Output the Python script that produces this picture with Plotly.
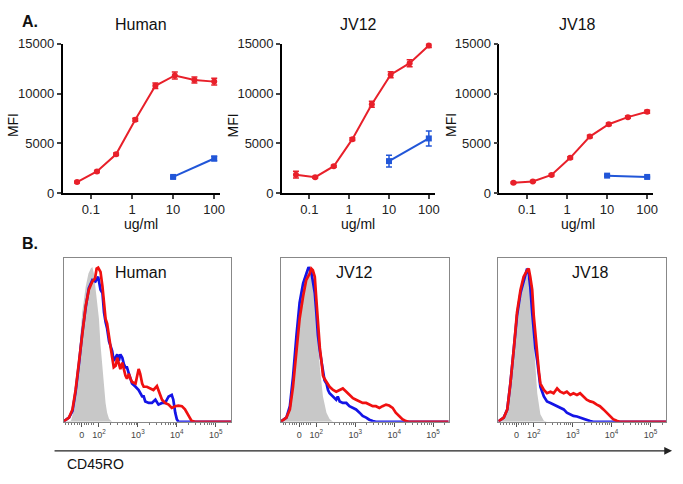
import math
import plotly.graph_objects as go

# ---------------- Panel A data ----------------
dose_red = [0.046, 0.14, 0.41, 1.2, 3.7, 11, 33, 100]
dose_blue = [10, 100]

human_red = [1100, 2170, 3900, 7370, 10780, 11820, 11360, 11200]
human_red_err = [80, 100, 120, 150, 280, 350, 300, 350]
human_blue = [1620, 3470]
human_blue_err = [100, 220]

jv12_red = [1850, 1590, 2700, 5420, 8930, 11900, 13050, 14840]
jv12_red_err = [350, 100, 100, 150, 300, 300, 350, 200]
jv12_blue = [3210, 5490]
jv12_blue_err = [600, 750]

jv18_red = [1040, 1170, 1820, 3540, 5680, 6920, 7630, 8180]
jv18_red_err = [80, 80, 100, 120, 120, 120, 120, 150]
jv18_blue = [1750, 1620]
jv18_blue_err = [80, 80]

panel_names = ["Human", "JV12", "JV18"]
y_ticks = [0, 5000, 10000, 15000]
x_ticks = [0.1, 1, 10, 100]
x_tick_text = ["0.1", "1", "10", "100"]

# ---------------- Panel B data (display units: decades; y: % of mode) ----------------
hist_tickvals = [1.56, 2, 3, 4, 5]
hist_ticktext = ["0", "10<sup>2</sup>", "10<sup>3</sup>", "10<sup>4</sup>", "10<sup>5</sup>"]

h_gray_x = [1.09, 1.28, 1.36, 1.40, 1.45, 1.49, 1.57, 1.66, 1.73, 1.79, 1.83, 1.87, 1.91, 1.96, 2.00, 2.04, 2.09, 2.13, 2.17, 2.21, 2.26, 2.34, 5.40]
h_gray_y = [0, 0.6, 8.0, 16.4, 29.0, 45.8, 71.0, 87.8, 96.2, 99.4, 100.4, 96.2, 87.8, 77.3, 66.8, 50.0, 35.3, 22.7, 12.2, 5.9, 1.7, 0, 0]

h_red_x = [1.09, 1.11, 1.23, 1.32, 1.40, 1.49, 1.57, 1.66, 1.74, 1.83, 1.90, 1.94, 1.98, 2.04, 2.09, 2.13, 2.17, 2.21, 2.26, 2.30, 2.34, 2.38, 2.43, 2.47, 2.51, 2.55, 2.60, 2.64, 2.68, 2.72, 2.77, 2.81, 2.85, 2.94, 2.98, 3.02, 3.06, 3.11, 3.15, 3.23, 3.32, 3.40, 3.49, 3.53, 3.62, 3.70, 3.79, 3.87, 3.96, 4.04, 4.13, 4.21, 4.30, 4.38, 4.47, 5.40]
h_red_y = [0.2, 0.6, 2.7, 8.0, 20.6, 39.5, 58.4, 75.2, 85.7, 91.0, 93.1, 99.4, 100, 97.3, 87.8, 77.3, 66.8, 63.7, 54.2, 47.9, 41.6, 35.3, 36.3, 41.6, 38.4, 34.2, 38.4, 33.2, 30.0, 27.9, 31.1, 27.9, 25.8, 24.8, 29.0, 34.2, 31.1, 24.8, 22.7, 22.7, 21.6, 20.6, 23.1, 20.6, 14.3, 12.2, 11.1, 9.0, 10.1, 10.5, 10.1, 8.0, 3.8, 0.6, 0, 0]

h_blue_x = [1.09, 1.11, 1.23, 1.32, 1.40, 1.49, 1.57, 1.66, 1.74, 1.83, 1.91, 1.98, 2.04, 2.09, 2.13, 2.17, 2.21, 2.26, 2.30, 2.34, 2.38, 2.43, 2.47, 2.51, 2.55, 2.60, 2.64, 2.68, 2.72, 2.77, 2.81, 2.85, 2.94, 3.02, 3.11, 3.15, 3.19, 3.28, 3.36, 3.45, 3.53, 3.62, 3.70, 3.79, 3.87, 3.91, 3.96, 4.00, 4.04, 5.40]
h_blue_y = [0.2, 0.6, 2.7, 6.9, 19.5, 38.4, 57.4, 74.2, 86.8, 92.0, 91.0, 94.1, 85.7, 83.6, 71.0, 64.7, 60.5, 52.1, 48.9, 45.8, 39.5, 41.6, 43.7, 39.5, 43.7, 41.6, 37.4, 35.3, 35.3, 31.1, 27.9, 24.8, 22.7, 20.6, 16.4, 16.4, 13.2, 12.2, 12.2, 14.3, 11.1, 12.2, 12.2, 16.4, 17.4, 14.3, 5.9, 1.7, 0, 0]

j12_gray_x = [1.09, 1.19, 1.32, 1.40, 1.49, 1.57, 1.66, 1.74, 1.80, 1.87, 1.91, 1.96, 2.00, 2.04, 2.09, 2.17, 2.26, 2.34, 2.43, 5.40]
j12_gray_y = [0, 0.6, 10.1, 29.0, 56.3, 79.4, 92.0, 98.3, 100, 97.3, 92.0, 81.5, 66.8, 50.0, 35.3, 16.4, 5.9, 1.7, 0, 0]

j12_blue_x = [1.09, 1.11, 1.23, 1.32, 1.40, 1.49, 1.57, 1.66, 1.74, 1.80, 1.87, 1.91, 1.96, 2.00, 2.04, 2.09, 2.17, 2.21, 2.26, 2.30, 2.34, 2.43, 2.51, 2.55, 2.60, 2.68, 2.77, 2.85, 2.94, 3.02, 3.11, 3.19, 3.28, 3.36, 3.45, 3.53, 5.40]
j12_blue_y = [0.2, 0.6, 2.7, 10.1, 29.0, 56.3, 77.3, 89.9, 96.2, 100.4, 97.3, 92.0, 83.6, 71.0, 56.3, 45.8, 33.2, 26.9, 24.8, 20.6, 18.5, 16.4, 14.3, 16.4, 13.2, 12.2, 12.2, 10.1, 9.0, 8.0, 5.9, 3.8, 2.7, 1.3, 0.4, 0, 0]

j12_red_x = [1.09, 1.11, 1.23, 1.32, 1.40, 1.49, 1.57, 1.66, 1.74, 1.83, 1.87, 1.91, 1.96, 2.00, 2.04, 2.09, 2.13, 2.17, 2.21, 2.26, 2.34, 2.43, 2.51, 2.60, 2.68, 2.77, 2.85, 2.94, 3.02, 3.11, 3.19, 3.28, 3.36, 3.45, 3.53, 3.62, 3.70, 3.79, 3.87, 3.96, 4.04, 4.13, 4.21, 4.30, 4.38, 5.40]
j12_red_y = [0.2, 0.4, 2.7, 8.0, 22.7, 45.8, 66.8, 81.5, 92.0, 96.2, 99.4, 98.3, 94.1, 79.4, 62.6, 47.9, 39.5, 30.0, 27.9, 25.8, 22.7, 20.6, 19.5, 20.6, 21.6, 19.5, 17.4, 15.3, 14.3, 13.2, 12.2, 12.2, 11.1, 10.1, 10.1, 9.0, 10.1, 11.1, 10.5, 9.0, 5.9, 3.8, 1.7, 0.4, 0, 0]

j18_gray_x = [1.09, 1.15, 1.32, 1.40, 1.49, 1.57, 1.66, 1.74, 1.80, 1.87, 1.91, 1.96, 2.00, 2.04, 2.09, 2.17, 2.26, 2.34, 5.40]
j18_gray_y = [0, 0.6, 8.0, 20.6, 41.6, 66.8, 83.6, 94.1, 96.2, 92.0, 83.6, 71.0, 52.1, 33.2, 18.5, 4.8, 0.6, 0, 0]

j18_blue_x = [1.09, 1.11, 1.23, 1.32, 1.40, 1.49, 1.57, 1.66, 1.74, 1.83, 1.87, 1.91, 1.96, 2.00, 2.04, 2.09, 2.13, 2.17, 2.26, 2.34, 2.43, 2.51, 2.60, 2.68, 2.77, 2.85, 2.94, 3.02, 3.11, 3.19, 3.28, 3.36, 3.45, 3.53, 5.40]
j18_blue_y = [0.2, 0.6, 2.7, 8.0, 24.8, 47.9, 68.9, 83.6, 92.0, 99.4, 96.2, 87.8, 71.0, 58.4, 47.9, 39.5, 29.0, 22.7, 16.4, 13.2, 12.2, 11.1, 10.1, 9.0, 8.0, 5.9, 4.8, 3.8, 3.4, 2.7, 1.7, 0.8, 0.4, 0, 0]

j18_red_x = [1.09, 1.11, 1.23, 1.32, 1.40, 1.49, 1.57, 1.66, 1.74, 1.83, 1.87, 1.91, 1.96, 2.00, 2.04, 2.09, 2.13, 2.17, 2.26, 2.34, 2.43, 2.51, 2.60, 2.68, 2.77, 2.85, 2.94, 3.02, 3.11, 3.19, 3.28, 3.36, 3.45, 3.53, 3.62, 3.70, 3.79, 3.87, 3.96, 4.04, 4.13, 4.21, 5.40]
j18_red_y = [0.2, 0.6, 2.7, 8.0, 24.8, 47.9, 71.0, 85.7, 94.1, 98.3, 99.4, 94.1, 85.7, 68.9, 56.3, 43.7, 33.2, 24.8, 20.6, 18.5, 19.5, 18.5, 21.6, 19.5, 18.5, 19.5, 17.4, 18.5, 17.4, 18.5, 16.4, 14.3, 13.2, 12.6, 11.1, 10.1, 8.0, 5.9, 3.8, 1.7, 0.6, 0, 0]

# ---------------- styling ----------------
W, H = 683, 484
RED_A = "#e8202a"
BLUE_A = "#2156d8"
RED_H = "#f01010"
BLUE_H = "#1414e6"
GRAY_H = "#c8c8c8"
FONT = "Liberation Sans, Arial, sans-serif"


def px(x):
    return x / W


def py(y):
    return 1 - y / H


fig = go.Figure()

a_dom_x = [(63, 222), (284, 438), (503, 658)]
a_dom_y = (38, 192)
b_dom_x = [(64, 233), (283, 452), (502, 671)]
b_dom_y = (259, 428)

a_sets = [
    (human_red, human_red_err, human_blue, human_blue_err),
    (jv12_red, jv12_red_err, jv12_blue, jv12_blue_err),
    (jv18_red, jv18_red_err, jv18_blue, jv18_blue_err),
]

layout = dict(
    width=W, height=H, margin=dict(l=0, r=0, t=0, b=0),
    paper_bgcolor="white", plot_bgcolor="white", showlegend=False,
    font=dict(family=FONT, color="#222"),
)

for i, (ry, re, by, be) in enumerate(a_sets):
    n = i + 1
    xa = "x" if n == 1 else f"x{n}"
    ya = "y" if n == 1 else f"y{n}"
    fig.add_trace(go.Scatter(
        x=dose_red, y=ry, xaxis=xa, yaxis=ya, mode="lines+markers",
        line=dict(color=RED_A, width=2), marker=dict(color=RED_A, size=6, symbol="circle"),
        error_y=dict(type="data", array=re, color=RED_A, thickness=1.5, width=3),
        cliponaxis=False))
    fig.add_trace(go.Scatter(
        x=dose_blue, y=by, xaxis=xa, yaxis=ya, mode="lines+markers",
        line=dict(color=BLUE_A, width=2), marker=dict(color=BLUE_A, size=6, symbol="square"),
        error_y=dict(type="data", array=be, color=BLUE_A, thickness=1.5, width=3),
        cliponaxis=False))
    x0, x1 = a_dom_x[i]
    layout["xaxis" if n == 1 else f"xaxis{n}"] = dict(
        domain=[px(x0), px(x1)], anchor=ya, type="log", range=[-1.69, 2.15],
        tickvals=x_ticks, ticktext=x_tick_text, ticks="outside", ticklen=4, tickwidth=1.5,
        showline=True, linecolor="black", linewidth=1.5, showgrid=False, zeroline=False,
        tickfont=dict(size=13, color="#222"))
    layout["yaxis" if n == 1 else f"yaxis{n}"] = dict(
        domain=[py(a_dom_y[1]), py(a_dom_y[0])], anchor=xa, range=[0, 15000],
        tickvals=y_ticks, tickformat="d", ticks="outside", ticklen=4, tickwidth=1.5,
        showline=True, linecolor="black", linewidth=1.5, showgrid=False, zeroline=False,
        tickfont=dict(size=13, color="#222"))

b_sets = [
    (h_gray_x, h_gray_y, h_blue_x, h_blue_y, h_red_x, h_red_y),
    (j12_gray_x, j12_gray_y, j12_blue_x, j12_blue_y, j12_red_x, j12_red_y),
    (j18_gray_x, j18_gray_y, j18_blue_x, j18_blue_y, j18_red_x, j18_red_y),
]

minor_vals = [1.15, 1.22, 1.30, 1.38, 1.45, 1.50, 1.62, 1.68, 1.74, 1.80, 1.86]
for dec in (2, 3, 4, 5):
    for k in range(2, 10):
        v = dec + math.log10(k)
        if v < 5.4:
            minor_vals.append(round(v, 3))

for i, (gx, gy, bx, byy, rx, ryy) in enumerate(b_sets):
    n = i + 4
    xa, ya = f"x{n}", f"y{n}"
    fig.add_trace(go.Scatter(x=gx, y=gy, xaxis=xa, yaxis=ya, mode="lines",
                             fill="tozeroy", fillcolor=GRAY_H, line=dict(width=0, color=GRAY_H)))
    fig.add_trace(go.Scatter(x=bx, y=byy, xaxis=xa, yaxis=ya, mode="lines",
                             line=dict(color=BLUE_H, width=2.7)))
    fig.add_trace(go.Scatter(x=rx, y=ryy, xaxis=xa, yaxis=ya, mode="lines",
                             line=dict(color=RED_H, width=2.7)))
    x0, x1 = b_dom_x[i]
    layout[f"xaxis{n}"] = dict(
        domain=[px(x0), px(x1)], anchor=ya, range=[1.09, 5.40],
        tickvals=hist_tickvals, ticktext=hist_ticktext, ticks="outside", ticklen=4,
        tickwidth=1, tickcolor="#555",
        minor=dict(tickmode="array", tickvals=minor_vals, ticks="outside", ticklen=2,
                   tickwidth=1, tickcolor="#777", showgrid=False),
        showline=True, mirror=True, linecolor="#888", linewidth=1, showgrid=False,
        zeroline=False, tickfont=dict(size=9, color="#444"))
    layout[f"yaxis{n}"] = dict(
        domain=[py(b_dom_y[1]), py(b_dom_y[0])], anchor=xa, range=[0, 106.3],
        showticklabels=False, ticks="", showline=True, mirror=True, linecolor="#888",
        linewidth=1, showgrid=False, zeroline=False)

ann = []


def text(x, y, s, size, bold=False, angle=0, xanchor="center"):
    ann.append(dict(x=px(x), y=py(y), xref="paper", yref="paper", text=f"<b>{s}</b>" if bold else s,
                    showarrow=False, font=dict(size=size, color="#111", family=FONT),
                    textangle=angle, xanchor=xanchor, yanchor="middle"))


text(30, 15, "A.", 16, bold=True)
text(30, 244, "B.", 16, bold=True)
for name, cx in zip(panel_names, [142, 361, 582]):
    text(cx, 18, name, 16)
for cx in [13, 235, 455]:
    text(cx, 122, "MFI", 14, angle=-90)
for cx in [142, 361, 582]:
    text(cx, 224, "ug/ml", 14)
for name, cx in zip(panel_names, [142, 357, 595]):
    text(cx, 274, name, 16)
text(65, 472, "CD45RO", 14, xanchor="left")

ann.append(dict(x=px(677), y=py(458), xref="paper", yref="paper", ax=-619, ay=0,
                axref="pixel", ayref="pixel", text="", showarrow=True, arrowhead=2,
                arrowsize=1.2, arrowwidth=1.3, arrowcolor="#222"))

layout["annotations"] = ann
fig.update_layout(**layout)
fig.write_html("out.html", config={"displayModeBar": False})

with open("out.html", "r", encoding="utf-8") as f:
    html = f.read()
html = html.replace("<head>", "<head><style>html,body{margin:0;padding:0;overflow:hidden;}</style>", 1)
with open("out.html", "w", encoding="utf-8") as f:
    f.write(html)
